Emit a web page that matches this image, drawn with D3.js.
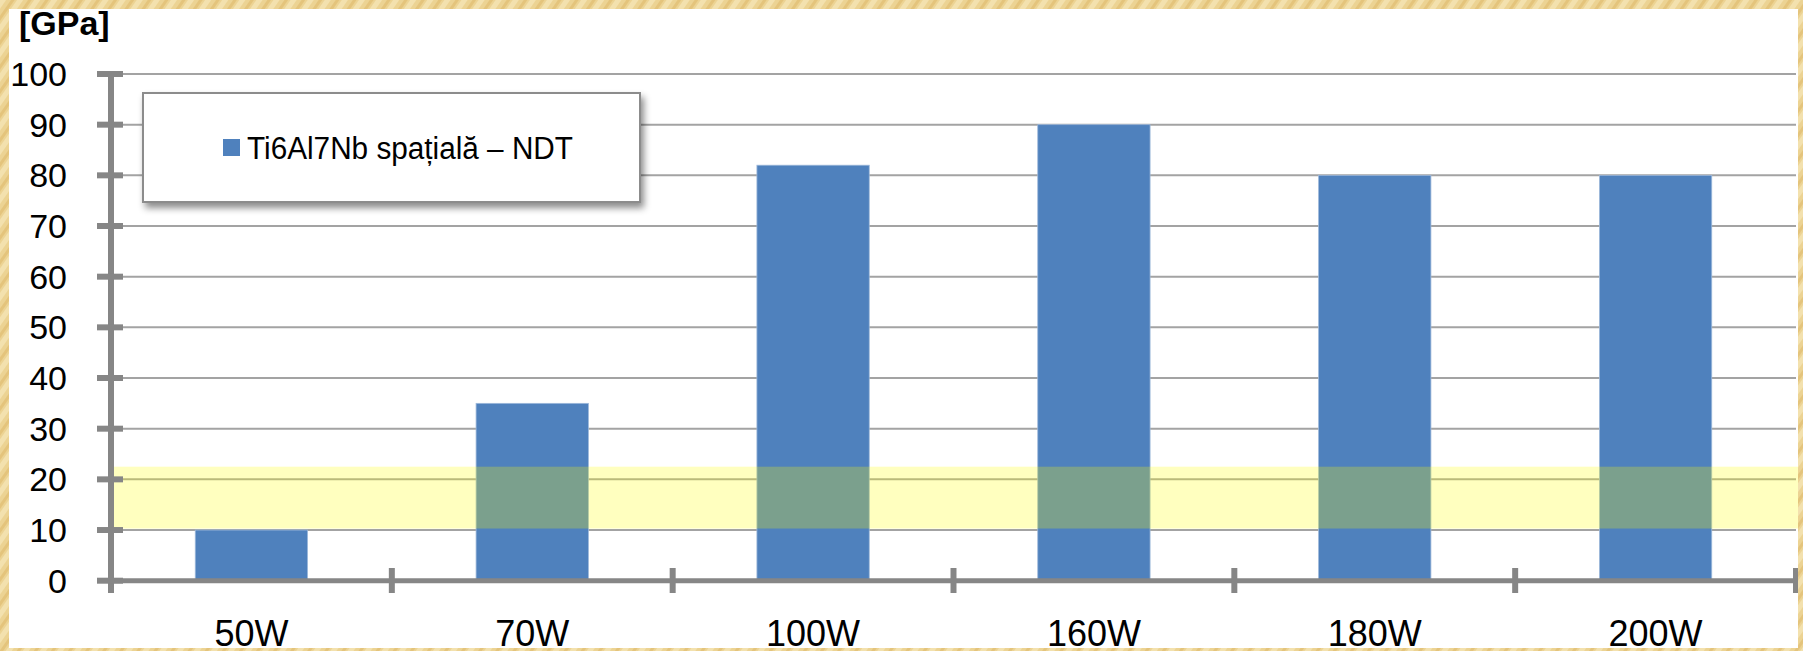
<!DOCTYPE html>
<html>
<head>
<meta charset="utf-8">
<script src="https://cdn.jsdelivr.net/npm/d3@7"></script>
<style>
  html, body { margin: 0; padding: 0; overflow: hidden; }
  body { width: 1803px; height: 651px; }
  text { font-family: "Liberation Sans", Arial, sans-serif; }
</style>
</head>
<body>
<script>
// ---- data ----
const categories = ["50W", "70W", "100W", "160W", "180W", "200W"];
const values = [10, 35, 82, 90, 80, 80];
const yTicks = [0, 10, 20, 30, 40, 50, 60, 70, 80, 90, 100];
const bandRange = [10.3, 22.5];
const seriesName = "Ti6Al7Nb spațială – NDT";
const unitLabel = "[GPa]";

const W = 1803, H = 651;
const svg = d3.select("body").append("svg").attr("width", W).attr("height", H);
const defs = svg.append("defs");

// golden textured background
const pat = defs.append("pattern").attr("id", "gold").attr("patternUnits", "userSpaceOnUse")
  .attr("width", 14).attr("height", 14).attr("patternTransform", "rotate(35)");
pat.append("rect").attr("width", 14).attr("height", 14).attr("fill", "#ECD393");
pat.append("rect").attr("width", 5).attr("height", 14).attr("fill", "#F3E1AE");
pat.append("rect").attr("x", 9).attr("width", 3).attr("height", 14).attr("fill", "#E4C47C");
svg.append("rect").attr("width", W).attr("height", H).attr("fill", "url(#gold)");

// white panel
const panel = {x: 9, y: 9, w: 1789, h: 639};
defs.append("clipPath").attr("id", "pclip").append("rect")
  .attr("x", panel.x).attr("y", panel.y).attr("width", panel.w).attr("height", panel.h);
svg.append("rect").attr("x", panel.x).attr("y", panel.y).attr("width", panel.w).attr("height", panel.h).attr("fill", "#fff");

const g = svg.append("g").attr("clip-path", "url(#pclip)");

// scales
const plotL = 111, plotR = 1796, y0 = 580.7, y100 = 74;
const x = d3.scaleBand().domain(categories).range([plotL, plotR]).paddingInner(0.6).paddingOuter(0.3);
const y = d3.scaleLinear().domain([0, 100]).range([y0, y100]);

// gridlines
g.append("g").selectAll("line").data(yTicks.filter(d => d > 0)).join("line")
  .attr("x1", plotL).attr("x2", plotR).attr("y1", d => y(d)).attr("y2", d => y(d))
  .attr("stroke", "#A3A3A3").attr("stroke-width", 2);

// bars
g.append("g").selectAll("rect").data(values).join("rect")
  .attr("x", (d, i) => x(categories[i])).attr("width", x.bandwidth())
  .attr("y", d => y(d)).attr("height", d => y(0) - y(d))
  .attr("fill", "#4F81BD").attr("stroke", "#9DB8DA").attr("stroke-width", 0.8);

// yellow band (semi-transparent)
g.append("rect").attr("x", plotL).attr("width", panel.x + panel.w - plotL)
  .attr("y", y(bandRange[1])).attr("height", y(bandRange[0]) - y(bandRange[1]))
  .attr("fill", "#FFFF00").attr("fill-opacity", 0.25);

// axes
const axisColor = "#868686";
g.append("line").attr("x1", plotL).attr("x2", plotL).attr("y1", y100 - 3).attr("y2", 593)
  .attr("stroke", axisColor).attr("stroke-width", 6);
g.append("g").selectAll("line").data(yTicks).join("line")
  .attr("x1", 97).attr("x2", 123).attr("y1", d => y(d)).attr("y2", d => y(d))
  .attr("stroke", axisColor).attr("stroke-width", 6);
g.append("line").attr("x1", plotL).attr("x2", plotR + 3).attr("y1", y0).attr("y2", y0)
  .attr("stroke", axisColor).attr("stroke-width", 5);
const bounds = d3.range(categories.length + 1).map(i => plotL + i * x.step());
g.append("g").selectAll("line").data(bounds.slice(1)).join("line")
  .attr("x1", d => d).attr("x2", d => d).attr("y1", 568).attr("y2", 593)
  .attr("stroke", axisColor).attr("stroke-width", 6);

// y tick labels
g.append("g").selectAll("text").data(yTicks).join("text")
  .attr("x", 67).attr("y", d => y(d)).attr("dy", "0.35em")
  .attr("text-anchor", "end").attr("font-size", 34).attr("fill", "#000")
  .text(d => d);

// x labels
g.append("g").selectAll("text").data(categories).join("text")
  .attr("x", d => x(d) + x.bandwidth() / 2).attr("y", 646)
  .attr("text-anchor", "middle").attr("font-size", 36).attr("fill", "#000")
  .text(d => d);

// unit label
g.append("text").attr("x", 19).attr("y", 35).attr("font-size", 34).attr("font-weight", "bold")
  .attr("fill", "#000").text(unitLabel);

// legend
const sh = defs.append("filter").attr("id", "shadow").attr("x", "-10%").attr("y", "-20%").attr("width", "130%").attr("height", "150%");
sh.append("feDropShadow").attr("dx", 3).attr("dy", 5).attr("stdDeviation", 3.5)
  .attr("flood-color", "#000").attr("flood-opacity", 0.45);
const lg = g.append("g");
lg.append("rect").attr("x", 143).attr("y", 93).attr("width", 497).attr("height", 109)
  .attr("fill", "#fff").attr("stroke", "#8C8C8C").attr("stroke-width", 2).attr("filter", "url(#shadow)");
lg.append("rect").attr("x", 223).attr("y", 139).attr("width", 17).attr("height", 17).attr("fill", "#4F81BD");
lg.append("text").attr("x", 247).attr("y", 148).attr("dy", "0.35em").attr("font-size", 31)
  .attr("textLength", 326).attr("lengthAdjust", "spacingAndGlyphs")
  .attr("fill", "#000").text(seriesName);
</script>
</body>
</html>
